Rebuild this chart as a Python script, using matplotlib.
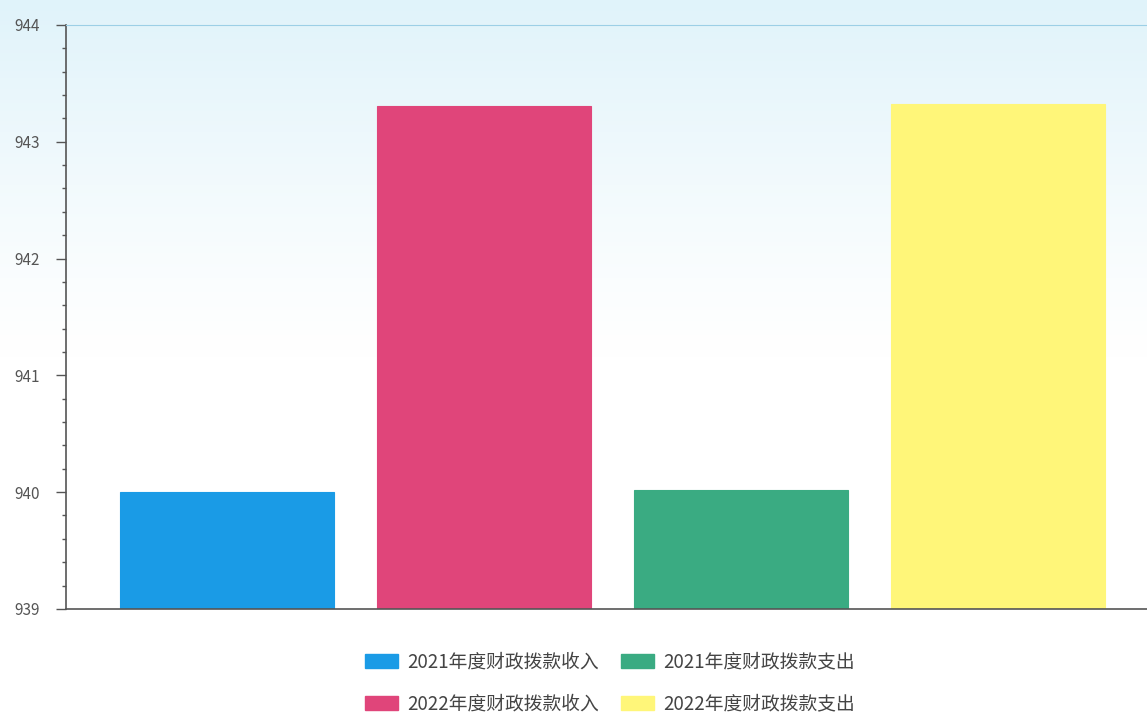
import numpy as np
import matplotlib
matplotlib.use("Agg")
import matplotlib.pyplot as plt
from matplotlib.patches import Patch
from matplotlib.ticker import MultipleLocator

plt.rcParams['font.family'] = ['Noto Sans CJK SC', 'DejaVu Sans']

labels = ["2021年度财政拨款收入", "2022年度财政拨款收入",
          "2021年度财政拨款支出", "2022年度财政拨款支出"]
values = [940.0, 943.31, 940.02, 943.32]
colors = ["#1a9be6", "#e0457a", "#3aab82", "#fff679"]

fig = plt.figure(figsize=(11.47, 7.13), dpi=100)

# light blue wash at the top of the picture
bg = fig.add_axes([0, 0, 1, 1], zorder=-10)
grad = np.ones((200, 1, 3))
t = np.linspace(0, 1, 200)
fade = np.clip((t - 0.5) / 0.5, 0, 1) ** 1.2
top = np.array([224, 243, 250]) / 255.0
for k in range(3):
    grad[:, 0, k] = 1 - (1 - top[k]) * fade
bg.imshow(grad, aspect='auto', extent=[0, 1, 0, 1], origin='lower')
bg.axis('off')

ax = fig.add_axes([0.0575, 0.146, 0.9425, 0.819])
ax.patch.set_alpha(0)
x = np.arange(len(values))
ax.bar(x, np.array(values) - 939, bottom=939, width=0.83, color=colors,
       edgecolor=colors, linewidth=0.8)

ax.set_ylim(939, 944)
ax.set_xlim(-0.627, 3.58)
ax.yaxis.set_major_locator(MultipleLocator(1))
ax.yaxis.set_minor_locator(MultipleLocator(0.2))
ax.set_xticks([])
ax.tick_params(axis='y', which='major', length=7, width=1, color='#555555',
               labelsize=11, labelcolor='#555555', pad=12)
ax.tick_params(axis='y', which='minor', length=3, width=1, color='#555555')

ax.spines['right'].set_visible(False)
ax.spines['top'].set_color('#9ccfe6')
ax.spines['left'].set_color('#555555')
ax.spines['bottom'].set_color('#555555')
ax.spines['left'].set_linewidth(1.2)
ax.spines['bottom'].set_linewidth(1.2)

handles = [Patch(facecolor=c, edgecolor=c) for c in colors]
fig.legend(handles, labels, ncol=2, loc='upper center',
           bbox_to_anchor=(0.532, 0.11), frameon=False, fontsize=13.5,
           handlelength=1.75, handleheight=0.78, labelspacing=1.12,
           columnspacing=1.15, handletextpad=0.5, labelcolor='#444444')

fig.savefig("out.png", dpi=100)
